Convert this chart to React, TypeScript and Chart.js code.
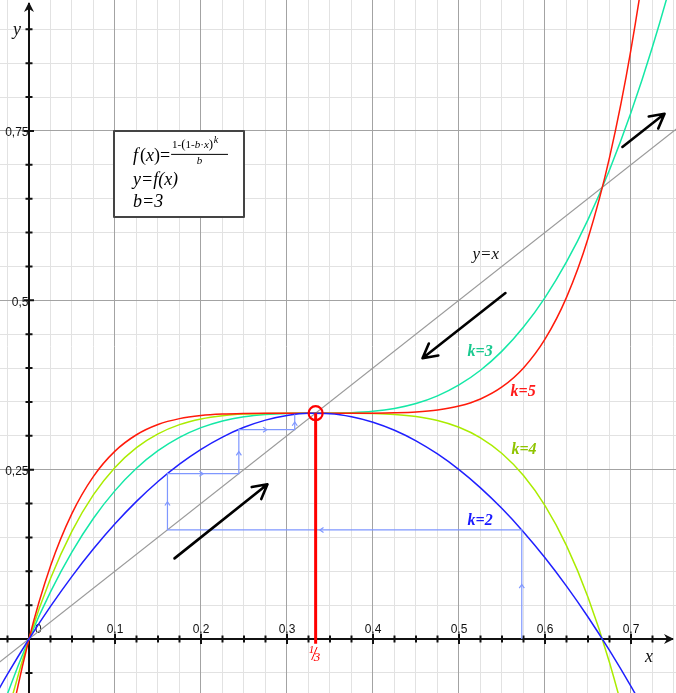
import React, { useEffect, useRef } from 'react';
import { Chart, registerables } from 'chart.js';

Chart.register(...registerables);

// ---- axis window ----
const X_MIN = -0.03372;
const X_MAX = 0.75233;
const Y_MIN = -0.0797;
const Y_MAX = 0.9432;

// ---- curve samples f(x) = (1-(1-3x)^k)/3 ----
const xs = [-0.05, -0.025, 0, 0.025, 0.05, 0.075, 0.1, 0.125, 0.15, 0.175, 0.2, 0.225, 0.25, 0.275, 0.3, 0.325, 0.35, 0.375, 0.4, 0.425, 0.45, 0.475, 0.5, 0.525, 0.55, 0.575, 0.6, 0.625, 0.65, 0.675, 0.7, 0.725, 0.75, 0.775];
const k2 = [-0.1075, -0.0519, 0, 0.0481, 0.0925, 0.1331, 0.17, 0.2031, 0.2325, 0.2581, 0.28, 0.2981, 0.3125, 0.3231, 0.33, 0.3331, 0.3325, 0.3281, 0.32, 0.3081, 0.2925, 0.2731, 0.25, 0.2231, 0.1925, 0.1581, 0.12, 0.0781, 0.0325, -0.0169, -0.07, -0.1269, -0.1875, -0.2519];
const k3 = [-0.1736, -0.0808, 0, 0.0695, 0.1286, 0.1782, 0.219, 0.252, 0.2779, 0.2976, 0.312, 0.3219, 0.3281, 0.3315, 0.333, 0.3333, 0.3334, 0.334, 0.336, 0.3403, 0.3476, 0.3589, 0.375, 0.3967, 0.4249, 0.4604, 0.504, 0.5566, 0.6191, 0.6923, 0.777, 0.8741, 0.9844, 1.1087];
const k4 = [-0.2497, -0.1118, 0, 0.0893, 0.1593, 0.2131, 0.2533, 0.2825, 0.3028, 0.3164, 0.3248, 0.3296, 0.332, 0.333, 0.3333, 0.3333, 0.3333, 0.3333, 0.3328, 0.3314, 0.3283, 0.3225, 0.3125, 0.2969, 0.2738, 0.2412, 0.1968, 0.1379, 0.0618, -0.0346, -0.1547, -0.302, -0.4805, -0.6941];
const k5 = [-0.3371, -0.1452, 0, 0.1076, 0.1854, 0.2401, 0.2773, 0.3015, 0.3166, 0.3253, 0.3299, 0.3321, 0.333, 0.3333, 0.3333, 0.3333, 0.3333, 0.3333, 0.3334, 0.3339, 0.3351, 0.338, 0.3438, 0.3543, 0.372, 0.4001, 0.4426, 0.5043, 0.5913, 0.7105, 0.8702, 1.0799, 1.3506, 1.6946];
const identityX = [-0.05, 0.775];
const identityY = [-0.05, 0.775];

// ---- cobweb (k=2) ----
const cobwebX = [0.573, 0.573, 0.161, 0.161, 0.244, 0.244, 0.309, 0.309];
const cobwebY = [0, 0.161, 0.161, 0.244, 0.244, 0.309, 0.309, 0.3316];
const cobwebArrowT = [0.5, 0.57, 0.5, 0.5, 0.5, 0.5, 0.5];

// ---- fixed point ----
const fixedX = 0.3333;
const fixedY = 0.3333;

// ---- ticks ----
const xLabelValues = [0.1, 0.2, 0.3, 0.4, 0.5, 0.6, 0.7];
const xLabels = ['0,1', '0,2', '0,3', '0,4', '0,5', '0,6', '0,7'];
const yLabelValues = [0.25, 0.5, 0.75];
const yLabels = ['0,25', '0,5', '0,75'];

// ---- big arrows [x0,y0,x1,y1] ----
const arrowStartX = [0.1692, 0.554, 0.69];
const arrowStartY = [0.119, 0.5106, 0.7263];
const arrowEndX = [0.2773, 0.4576, 0.739];
const arrowEndY = [0.2283, 0.4145, 0.7752];

// ---- curve labels ----
const labelTexts = ['k=3', 'k=5', 'k=4', 'k=2'];
const labelX = [0.51, 0.56, 0.561, 0.51];
const labelY = [0.4175, 0.3584, 0.2727, 0.1677];
const labelColors = ['#19c98f', '#ff1a1a', '#8fc400', '#1a1aff'];

const COL_K2 = '#1f1fff';
const COL_K3 = '#14e8a6';
const COL_K4 = '#aaec00';
const COL_K5 = '#ff1a0a';
const COL_ID = '#9a9a9a';
const COL_COB = '#7f97ff';

const toPts = (xa: number[], ya: number[]) => xa.map((v, i) => ({ x: v, y: ya[i] }));

const decor = {
  id: 'decor',
  beforeDatasetsDraw(chart: any) {
    const { ctx, chartArea: a, scales } = chart;
    const X = scales.x, Y = scales.y;
    const px = (v: number) => X.getPixelForValue(v);
    const py = (v: number) => Y.getPixelForValue(v);
    const crisp = (p: number) => Math.round(p) + 0.5;
    ctx.save();
    ctx.fillStyle = '#fff';
    ctx.fillRect(a.left, a.top, a.right - a.left, a.bottom - a.top);
    ctx.lineWidth = 1;
    // minor grid
    ctx.strokeStyle = '#e2e2e2';
    ctx.beginPath();
    for (let i = Math.ceil(X_MIN / 0.025); i * 0.025 <= X_MAX; i++) {
      if (i % 4 === 0) continue;
      const p = crisp(px(i * 0.025) - 0.5);
      ctx.moveTo(p, a.top); ctx.lineTo(p, a.bottom);
    }
    for (let i = Math.ceil(Y_MIN / 0.05); i * 0.05 <= Y_MAX; i++) {
      if (i % 5 === 0) continue;
      const p = crisp(py(i * 0.05) - 0.5);
      ctx.moveTo(a.left, p); ctx.lineTo(a.right, p);
    }
    ctx.stroke();
    // major grid
    ctx.strokeStyle = '#a3a3a3';
    ctx.beginPath();
    for (let i = Math.ceil(X_MIN / 0.1); i * 0.1 <= X_MAX; i++) {
      if (i === 0) continue;
      const p = crisp(px(i * 0.1) - 0.5);
      ctx.moveTo(p, a.top); ctx.lineTo(p, a.bottom);
    }
    for (let i = Math.ceil(Y_MIN / 0.25); i * 0.25 <= Y_MAX; i++) {
      if (i === 0) continue;
      const p = crisp(py(i * 0.25) - 0.5);
      ctx.moveTo(a.left, p); ctx.lineTo(a.right, p);
    }
    ctx.stroke();

    // axes
    const ox = px(0), oy = py(0);
    ctx.strokeStyle = '#111';
    ctx.fillStyle = '#111';
    ctx.lineWidth = 2;
    ctx.beginPath();
    ctx.moveTo(a.left, oy); ctx.lineTo(a.right - 3, oy);
    ctx.moveTo(ox, a.bottom); ctx.lineTo(ox, a.top + 3);
    ctx.stroke();
    // ticks
    ctx.beginPath();
    for (let i = Math.ceil(X_MIN / 0.025); i * 0.025 <= X_MAX - 0.01; i++) {
      if (i === 0) continue;
      const p = px(i * 0.025);
      const h = i % 4 === 0 ? 5 : 3.5;
      ctx.moveTo(p, oy - h); ctx.lineTo(p, oy + h);
    }
    for (let i = Math.ceil(Y_MIN / 0.05); i * 0.05 <= Y_MAX - 0.01; i++) {
      if (i === 0) continue;
      const p = py(i * 0.05);
      const h = i % 5 === 0 ? 5 : 3.5;
      ctx.moveTo(ox - h, p); ctx.lineTo(ox + h, p);
    }
    ctx.stroke();
    // axis arrowheads
    const tipX = a.right - 2;
    ctx.beginPath();
    ctx.moveTo(tipX, oy);
    ctx.lineTo(tipX - 10, oy - 5);
    ctx.lineTo(tipX - 7, oy);
    ctx.lineTo(tipX - 10, oy + 5);
    ctx.closePath();
    ctx.fill();
    const tipY = a.top + 2;
    ctx.beginPath();
    ctx.moveTo(ox, tipY);
    ctx.lineTo(ox - 5, tipY + 10);
    ctx.lineTo(ox, tipY + 7);
    ctx.lineTo(ox + 5, tipY + 10);
    ctx.closePath();
    ctx.fill();

    // tick labels
    ctx.font = '12px "Liberation Sans", Arial, sans-serif';
    ctx.fillStyle = '#111';
    ctx.textBaseline = 'alphabetic';
    ctx.textAlign = 'center';
    xLabelValues.forEach((v, i) => ctx.fillText(xLabels[i], px(v), oy - 6.5));
    ctx.textAlign = 'left';
    ctx.fillText('0', ox + 6, oy - 6.5);
    ctx.textAlign = 'right';
    yLabelValues.forEach((v, i) => ctx.fillText(yLabels[i], ox - 0.5, py(v) + 5.5));

    // axis names
    ctx.font = 'italic 18px "Liberation Serif", "Times New Roman", serif';
    ctx.textAlign = 'left';
    ctx.fillText('x', a.right - 31, oy + 23);
    ctx.fillText('y', ox - 16, a.top + 35);
    ctx.restore();
  },
  afterDatasetsDraw(chart: any) {
    const { ctx, scales } = chart;
    const X = scales.x, Y = scales.y;
    const px = (v: number) => X.getPixelForValue(v);
    const py = (v: number) => Y.getPixelForValue(v);
    ctx.save();

    // cobweb arrowheads
    ctx.strokeStyle = COL_COB;
    ctx.lineWidth = 1.2;
    for (let i = 0; i < cobwebX.length - 1; i++) {
      const x0 = px(cobwebX[i]), y0 = py(cobwebY[i]);
      const x1 = px(cobwebX[i + 1]), y1 = py(cobwebY[i + 1]);
      const t = cobwebArrowT[i];
      const mx = x0 + (x1 - x0) * t, my = y0 + (y1 - y0) * t;
      const ang = Math.atan2(y1 - y0, x1 - x0);
      ctx.beginPath();
      ctx.moveTo(mx - 4.5 * Math.cos(ang - 0.6), my - 4.5 * Math.sin(ang - 0.6));
      ctx.lineTo(mx, my);
      ctx.lineTo(mx - 4.5 * Math.cos(ang + 0.6), my - 4.5 * Math.sin(ang + 0.6));
      ctx.stroke();
    }

    // red vertical + circle at fixed point
    const fx = px(fixedX), fy = py(fixedY);
    ctx.strokeStyle = '#ff0000';
    ctx.lineWidth = 3;
    ctx.beginPath();
    ctx.moveTo(fx, fy);
    ctx.lineTo(fx, py(-0.007));
    ctx.stroke();
    ctx.lineWidth = 2.2;
    ctx.beginPath();
    ctx.arc(fx, fy, 7, 0, Math.PI * 2);
    ctx.stroke();
    // 1/3 label
    ctx.fillStyle = '#ff0000';
    ctx.font = 'italic 11px "Liberation Serif", serif';
    ctx.textAlign = 'left';
    ctx.fillText('1', fx - 7, py(0) + 14);
    ctx.lineWidth = 1;
    ctx.beginPath();
    ctx.moveTo(fx - 4, py(0) + 21);
    ctx.lineTo(fx + 1.5, py(0) + 8);
    ctx.stroke();
    ctx.font = 'italic 13px "Liberation Serif", serif';
    ctx.fillText('3', fx - 2, py(0) + 22);

    // big black arrows
    ctx.strokeStyle = '#000';
    ctx.lineWidth = 2.6;
    ctx.lineCap = 'round';
    ctx.lineJoin = 'round';
    for (let i = 0; i < arrowStartX.length; i++) {
      const x0 = px(arrowStartX[i]), y0 = py(arrowStartY[i]);
      const x1 = px(arrowEndX[i]), y1 = py(arrowEndY[i]);
      const ang = Math.atan2(y1 - y0, x1 - x0);
      const L = 16;
      ctx.beginPath();
      ctx.moveTo(x0, y0); ctx.lineTo(x1, y1);
      ctx.moveTo(x1 - L * Math.cos(ang - 0.5), y1 - L * Math.sin(ang - 0.5));
      ctx.lineTo(x1, y1);
      ctx.lineTo(x1 - L * Math.cos(ang + 0.5), y1 - L * Math.sin(ang + 0.5));
      ctx.stroke();
    }
    ctx.lineCap = 'butt';

    // curve labels
    ctx.font = 'italic bold 16px "Liberation Serif", "Times New Roman", serif';
    ctx.textAlign = 'left';
    ctx.textBaseline = 'alphabetic';
    labelTexts.forEach((t, i) => {
      ctx.fillStyle = labelColors[i];
      ctx.fillText(t, px(labelX[i]), py(labelY[i]));
    });
    ctx.fillStyle = '#111';
    ctx.font = 'italic 17px "Liberation Serif", "Times New Roman", serif';
    ctx.fillText('y=x', px(0.5157), py(0.561));

    // formula box
    const bx = px(0.1) - 1, by = py(0.75), bw = 130, bh = 86;
    ctx.fillStyle = '#fff';
    ctx.fillRect(bx, by, bw, bh);
    ctx.strokeStyle = '#444';
    ctx.lineWidth = 2;
    ctx.strokeRect(bx, by, bw, bh);
    ctx.fillStyle = '#000';
    const serif = '"Liberation Serif", "Times New Roman", serif';
    ctx.font = 'italic 18px ' + serif;
    ctx.fillText('f', bx + 19, by + 30);
    ctx.font = '18px ' + serif;
    let cx = bx + 19 + ctx.measureText('f').width + 1;
    ctx.fillText('(', cx, by + 30); cx += ctx.measureText('(').width;
    ctx.font = 'italic 18px ' + serif;
    ctx.fillText('x', cx, by + 30); cx += ctx.measureText('x').width;
    ctx.font = '18px ' + serif;
    ctx.fillText(')', cx, by + 30); cx += ctx.measureText(')').width;
    ctx.fillText('=', cx, by + 30); cx += ctx.measureText('=').width + 1;
    // fraction
    const fracL = cx, fracR = bx + 114;
    ctx.lineWidth = 1;
    ctx.strokeStyle = '#000';
    ctx.beginPath();
    ctx.moveTo(fracL, by + 23.5); ctx.lineTo(fracR, by + 23.5);
    ctx.stroke();
    ctx.font = '11px ' + serif;
    let nx = fracL + 1;
    const nb = by + 17;
    const seg = (t: string, it: boolean) => {
      ctx.font = (it ? 'italic ' : '') + '11px ' + serif;
      ctx.fillText(t, nx, nb); nx += ctx.measureText(t).width;
    };
    seg('1-', false);
    ctx.font = '13px ' + serif;
    ctx.fillText('(', nx, nb + 0.5); nx += ctx.measureText('(').width;
    seg('1-', false); seg('b', true); seg('·', false); seg('x', true);
    ctx.font = '13px ' + serif;
    ctx.fillText(')', nx, nb + 0.5); nx += ctx.measureText(')').width;
    ctx.font = 'italic 10px ' + serif;
    ctx.fillText('k', nx + 0.5, by + 12);
    ctx.font = 'italic 11px ' + serif;
    ctx.textAlign = 'center';
    ctx.fillText('b', (fracL + fracR) / 2, by + 33);
    ctx.textAlign = 'left';
    ctx.font = 'italic 18px ' + serif;
    ctx.fillText('y=f(x)', bx + 19, by + 54);
    ctx.fillText('b=3', bx + 19, by + 76);
    ctx.restore();
  },
};

export default function App() {
  const ref = useRef<HTMLCanvasElement | null>(null);
  useEffect(() => {
    if (!ref.current) return;
    const line = (data: any, color: string, width = 1.5) => ({
      data,
      borderColor: color,
      borderWidth: width,
      showLine: true,
      pointRadius: 0,
      fill: false,
      cubicInterpolationMode: 'monotone' as const,
    });
    const chart = new Chart(ref.current, {
      type: 'scatter',
      data: {
        datasets: [
          { ...line(toPts(cobwebX, cobwebY), COL_COB, 1.2), cubicInterpolationMode: 'default', tension: 0 },
          line(toPts(xs, k2), COL_K2),
          line(toPts(xs, k5), COL_K5),
          line(toPts(xs, k4), COL_K4),
          line(toPts(xs, k3), COL_K3),
          { ...line(toPts(identityX, identityY), COL_ID, 1.2), tension: 0 },
        ],
      },
      options: {
        animation: false,
        responsive: false,
        events: [],
        layout: { padding: 0 },
        plugins: { legend: { display: false }, tooltip: { enabled: false } },
        scales: {
          x: { type: 'linear', min: X_MIN, max: X_MAX, display: false },
          y: { type: 'linear', min: Y_MIN, max: Y_MAX, display: false },
        },
      },
      plugins: [decor],
    });
    return () => chart.destroy();
  }, []);
  return (
    <div style={{ position: 'absolute', left: 0, top: 0, width: 676, height: 693 }}>
      <canvas ref={ref} width={676} height={693} style={{ display: 'block' }} />
    </div>
  );
}
